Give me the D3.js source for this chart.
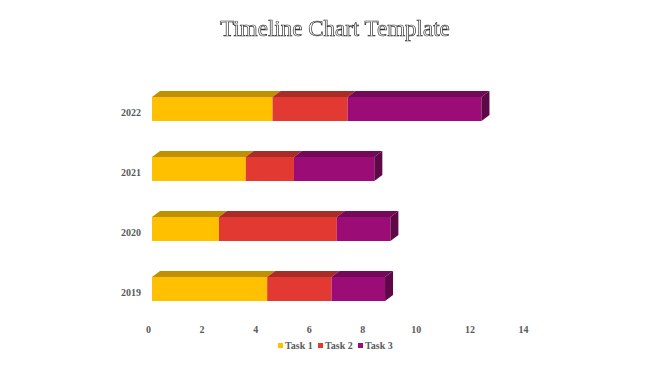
<!DOCTYPE html>
<html>
<head>
<meta charset="utf-8">
<script src="https://cdnjs.cloudflare.com/ajax/libs/d3/7.8.5/d3.min.js"></script>
<style>
  body { margin: 0; background: #fff; }
  text { font-family: "Liberation Serif", "DejaVu Serif", serif; }
</style>
</head>
<body>
<div id="chart"></div>
<script>
// data
var years = ["2019", "2020", "2021", "2022"];
var series = ["Task 1", "Task 2", "Task 3"];
var task1 = [4.3, 2.5, 3.5, 4.5];
var task2 = [2.4, 4.4, 1.8, 2.8];
var task3 = [2.0, 2.0, 3.0, 5.0];
var xTicks = [0, 2, 4, 6, 8, 10, 12, 14];

var colors = ["#FFC000", "#E23A32", "#9C0C76"];
var topColors = ["#BF9000", "#A92C27", "#730958"];
var sideColors = ["#A37A00", "#8F2420", "#5E0848"];

var width = 670, height = 376;
var depthX = 8, depthY = -6; // fake 3d offset

var svg = d3.select("#chart").append("svg")
	.attr("width", width)
	.attr("height", height);

// identity filter so the outlined title gets plain grey antialiasing
svg.append("defs").append("filter")
	.attr("id", "flat")
	.append("feOffset").attr("dx", 0).attr("dy", 0);

// title (outlined look)
svg.append("text")
	.attr("x", 335)
	.attr("y", 36)
	.attr("text-anchor", "middle")
	.attr("filter", "url(#flat)")
	.style("font-size", "23px")
	.style("fill", "#fff")
	.style("stroke", "#333")
	.style("stroke-width", "0.7px")
	.text("Timeline Chart Template");

var x = d3.scaleLinear().domain([0, 14]).range([148, 523]);
// front face sits a little to the right of the axis origin
var xf = d3.scaleLinear().domain([0, 14]).range([152, 527]);

var y = d3.scaleBand()
	.domain(years.slice().reverse())
	.range([79, 319])
	.paddingInner(0.6)
	.paddingOuter(0.3);

var rows = years.map(function (yr, i) {
	var vals = [task1[i], task2[i], task3[i]];
	var acc = 0;
	return {
		year: yr,
		segs: vals.map(function (v, k) {
			var s = { k: k, x0: acc, x1: acc + v, last: k == vals.length - 1 };
			acc += v;
			return s;
		})
	};
});

var bars = svg.append("g").selectAll("g")
	.data(rows)
	.enter().append("g");

bars.each(function (row) {
	var g = d3.select(this);
	var y0 = y(row.year), bh = y.bandwidth();
	row.segs.forEach(function (s) {
		var a = xf(s.x0), b = xf(s.x1);
		// top face
		g.append("path")
			.attr("d", "M" + a + "," + y0 + "L" + (a + depthX) + "," + (y0 + depthY) +
				"L" + (b + depthX) + "," + (y0 + depthY) + "L" + b + "," + y0 + "Z")
			.style("fill", topColors[s.k]);
		// front face
		g.append("rect")
			.attr("x", a).attr("y", y0)
			.attr("width", b - a).attr("height", bh)
			.style("fill", colors[s.k]);
		if (s.last) {
			g.append("path")
				.attr("d", "M" + b + "," + y0 + "L" + (b + depthX) + "," + (y0 + depthY) +
					"L" + (b + depthX) + "," + (y0 + bh + depthY) + "L" + b + "," + (y0 + bh) + "Z")
				.style("fill", sideColors[s.k]);
		}
	});
});

// year labels
svg.append("g").selectAll("text")
	.data(years)
	.enter().append("text")
	.attr("x", 141)
	.attr("y", function (d) { return y(d) + y.bandwidth() / 2 + 7; })
	.attr("text-anchor", "end")
	.style("font-size", "10px")
	.style("font-weight", "bold")
	.style("fill", "#595959")
	.text(function (d) { return d; });

// x axis labels, no line
var xAxis = svg.append("g")
	.attr("transform", "translate(0,326)")
	.call(d3.axisBottom(x).tickValues(xTicks).tickSize(0).tickPadding(0));
xAxis.select(".domain").remove();
xAxis.selectAll("text")
	.attr("dy", "0.71em")
	.style("font-family", "Liberation Serif, serif")
	.style("font-size", "10px")
	.style("font-weight", "bold")
	.style("fill", "#595959");

// legend
var legendX = [278, 318, 358];
var legend = svg.append("g").selectAll("g")
	.data(series)
	.enter().append("g")
	.attr("transform", function (d, i) { return "translate(" + legendX[i] + ",346)"; });
legend.append("rect")
	.attr("x", 0).attr("y", -3)
	.attr("width", 5).attr("height", 5)
	.style("fill", function (d, i) { return colors[i]; });
legend.append("text")
	.attr("x", 7).attr("y", 3)
	.style("font-size", "10px")
	.style("font-weight", "bold")
	.style("fill", "#595959")
	.text(function (d) { return d; });
</script>
</body>
</html>
